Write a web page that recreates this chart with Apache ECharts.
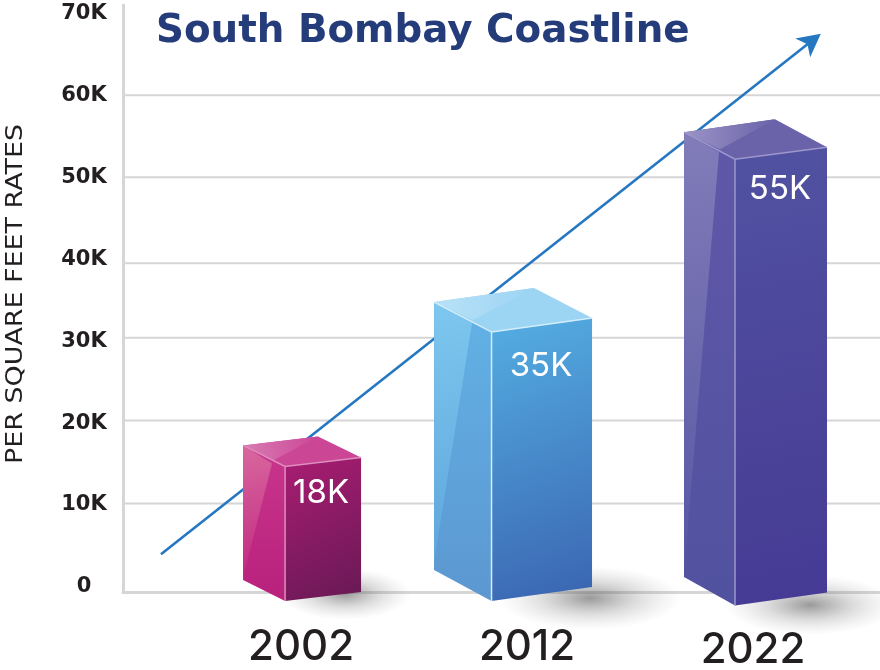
<!DOCTYPE html>
<html>
<head>
<meta charset="utf-8">
<style>html,body{margin:0;padding:0;background:#fff}#chart{width:880px;height:670px}</style>
<script src="https://cdn.jsdelivr.net/npm/echarts@6/dist/echarts.min.js"></script>
</head>
<body>
<div id="chart"></div>
<script>
// Rates in thousands per square foot
const years = [2002, 2012, 2022];
const rates = [18, 35, 55];
const rateTicks = [0, 10, 20, 30, 40, 50, 60, 70];
const gridLevels = [10.2, 20.3, 30.4, 39.5, 50, 60];
const trendYears = [1995.8, 2025];
const trendRates = [4, 67.5];

// Pixel offsets of each prism around its anchors (axis position of year/rate and year/0)
const prismShapes = [
  { dx: { left: -58, front: -16, right: 60, back: 17 },
    top: { left: 6, front: 27, right: 18, back: -3 },
    base: { left: -7, front: 14, right: 5 },
    sheenTip: [-29, 24], sheenFoot: -3, label: [20, 54], shadow: [44, 7, 66, 26] },
  { dx: { left: -93, front: -35.5, right: 65, back: 7 },
    top: { left: 2, front: 32, right: 18, back: -12 },
    base: { left: -17, front: 14, right: 0 },
    sheenTip: [-55, 23], sheenFoot: -8, label: [14, 66], shadow: [63, 11, 92, 32] },
  { dx: { left: -69, front: -18, right: 74, back: 22 },
    top: { left: -4, front: 23, right: 11, back: -17 },
    base: { left: -10, front: 18.5, right: 5.5 },
    sheenTip: [-34, 16], sheenFoot: -5, label: [27, 53], shadow: [57, 18, 86, 30] }
];

const prismColors = [
  { wall: ['#c9358d', '#b8217c'], sheen: ['#d9689f', '#c0277f'], frontStart: '#a91d72', frontEnd: '#671955',
    roof: '#cb4796', roofLight: '#d97bb3', edge: '#dd8ebd' },
  { wall: ['#62b2e6', '#5c97d0'], sheen: ['#7ec7ef', '#5ea6dc'], frontStart: '#54aee3', frontEnd: '#3a64b0',
    roof: '#9cd4f4', roofLight: '#b9e1f7', edge: '#d4edfb' },
  { wall: ['#5f58a8', '#51529f'], sheen: ['#827db9', '#5656a3'], frontStart: '#5152a2', frontEnd: '#463a94',
    roof: '#6a63a9', roofLight: '#9b93c6', edge: '#9d97cd' }
];

const axisGrey = '#d6d6d6';
const inkColor = '#231f20';
const trendColor = '#2577c1';
const yearFont = { fontSize: 42, fontWeight: 500, fontFamily: 'Inter', color: inkColor };

function linear(x, y, x2, y2, from, to) {
  return { type: 'linear', x, y, x2, y2, colorStops: [{ offset: 0, color: from }, { offset: 1, color: to }] };
}

// Horizontal rules across the plot
function renderGridLevel(params, api) {
  const y = api.coord([trendYears[0], api.value(0)])[1];
  const c = params.coordSys;
  return { type: 'line', shape: { x1: c.x, y1: y, x2: c.x + c.width, y2: y },
           style: { stroke: axisGrey, lineWidth: 2 } };
}

// Rising trend arrow behind the prisms
function renderTrend(params, api) {
  if (params.dataIndex !== 0) return null;
  const a = api.coord([trendYears[0], trendRates[0]]);
  const b = api.coord([trendYears[1], trendRates[1]]);
  const len = Math.hypot(b[0] - a[0], b[1] - a[1]);
  const ux = (b[0] - a[0]) / len, uy = (b[1] - a[1]) / len;
  const at = (along, side) => [b[0] + ux * along - uy * side, b[1] + uy * along + ux * side];
  return { type: 'group', children: [
    { type: 'line', shape: { x1: a[0], y1: a[1], x2: at(-15, 0)[0], y2: at(-15, 0)[1] },
      style: { stroke: trendColor, lineWidth: 2.6 } },
    { type: 'polygon', shape: { points: [at(0, 0), at(-23, -12), at(-17, 0), at(-23, 12)] },
      style: { fill: trendColor } }
  ] };
}

// Soft floor shadow at the foot of a prism
function renderShadow(params, api) {
  const s = prismShapes[params.dataIndex];
  const foot = api.coord([api.value(0), 0]);
  const ry = s.shadow[3];
  return { type: 'circle',
    x: foot[0] + s.shadow[0], y: foot[1] + s.shadow[1],
    scaleX: s.shadow[2] / ry,
    shape: { cx: 0, cy: 0, r: ry },
    style: { fill: { type: 'radial', x: 0.5, y: 0.5, r: 0.5, colorStops: [
      { offset: 0, color: 'rgba(70,70,70,0.55)' },
      { offset: 0.5, color: 'rgba(110,110,110,0.24)' },
      { offset: 1, color: 'rgba(160,160,160,0)' }] } } };
}

// Three visible faces of a prism, their highlights and the value text
function renderPrism(params, api) {
  const i = params.dataIndex;
  const s = prismShapes[i], c = prismColors[i];
  const head = api.coord([api.value(0), api.value(1)]);
  const foot = api.coord([api.value(0), 0]);
  const tp = k => [head[0] + s.dx[k], head[1] + s.top[k]];
  const bt = k => [foot[0] + s.dx[k], foot[1] + s.base[k]];
  const tl = tp('left'), tf = tp('front'), tr = tp('right'), tb = tp('back');
  const bl = bt('left'), bf = bt('front'), br = bt('right');
  const sheenTip = [head[0] + s.sheenTip[0], head[1] + s.sheenTip[1]];
  const sheenFoot = [bl[0], bl[1] + s.sheenFoot];
  const roofTip = [sheenTip[0] + 1, sheenTip[1] - 3];
  return { type: 'group', children: [
    { type: 'polygon', shape: { points: [tl, tf, bf, bl] },
      style: { fill: linear(0, 0, 0, 1, c.wall[0], c.wall[1]) } },
    { type: 'polygon', shape: { points: [tl, sheenTip, sheenFoot] },
      style: { fill: linear(0, 0, 1, 1, c.sheen[0], c.sheen[1]) } },
    { type: 'polygon', shape: { points: [tf, tr, br, bf] },
      style: { fill: linear(0, 0, 1, 1, c.frontStart, c.frontEnd) } },
    { type: 'polygon', shape: { points: [tl, tb, tr, tf] }, style: { fill: c.roof } },
    { type: 'polygon', shape: { points: [tl, tb, roofTip] },
      style: { fill: linear(0, 0, 1, 0, c.roofLight, c.roof) } },
    { type: 'polyline', shape: { points: [tl, tf, tr] },
      style: { stroke: c.edge, lineWidth: 1.5, fill: 'none' } },
    { type: 'line', shape: { x1: tf[0], y1: tf[1], x2: bf[0], y2: bf[1] },
      style: { stroke: c.edge, lineWidth: 1.5 } },
    { type: 'text', style: { x: foot[0] + s.label[0], y: head[1] + s.label[1],
        text: api.value(1) + 'K', fill: '#ffffff', align: 'center', verticalAlign: 'middle',
        font: '400 33px Inter, sans-serif' } }
  ] };
}

const prismData = years.map((y, i) => [y, rates[i]]);

const chart = echarts.init(document.getElementById('chart'), null, { renderer: 'canvas' });
chart.setOption({
  animation: false,
  backgroundColor: '#ffffff',
  title: {
    text: 'South Bombay Coastline', left: 151, top: 7,
    textStyle: { fontFamily: 'DejaVu Sans', fontWeight: 'bold', fontSize: 38.8, color: '#253c7b' }
  },
  grid: { left: 123, right: 0, top: 5, bottom: 78, containLabel: false, outerBoundsMode: 'none' },
  xAxis: {
    type: 'value', min: 1994.12, max: 2027.62,
    axisLine: { onZero: false, lineStyle: { color: axisGrey, width: 3 } },
    axisTick: { show: false }, splitLine: { show: false },
    axisLabel: { customValues: years, margin: 34, ...yearFont,
      formatter: v => (v === years[2] ? '{late|' + v + '}' : String(v)),
      rich: { late: { ...yearFont, padding: [3, 0, 0, 0] } } }
  },
  yAxis: {
    type: 'value', min: -0.61, max: 71,
    axisLine: { onZero: false, lineStyle: { color: axisGrey, width: 3 } },
    axisTick: { show: false }, splitLine: { show: false },
    axisLabel: { customValues: rateTicks, formatter: v => (v === 0 ? '0' : v + 'K'), margin: 39, align: 'center',
      padding: [5, 0, 0, 0],
      fontFamily: 'DejaVu Sans', fontWeight: 'bold', fontSize: 21, color: inkColor }
  },
  graphic: [{
    type: 'text', x: 16, y: 294, rotation: Math.PI / 2, scaleX: 1.17, silent: true,
    style: { text: 'PER SQUARE FEET RATES', align: 'center', verticalAlign: 'middle',
      font: '23px "DejaVu Sans"', fill: inkColor }
  }],
  series: [
    { type: 'custom', z: 1, silent: true, renderItem: renderGridLevel, data: gridLevels.map(v => [v]),
      encode: { y: 0 } },
    { type: 'custom', z: 2, silent: true, renderItem: renderTrend, data: [[trendYears[0], trendRates[0]]] },
    { type: 'custom', z: 3, silent: true, renderItem: renderShadow, data: prismData },
    { type: 'custom', z: 4, silent: true, renderItem: renderPrism, data: prismData }
  ]
});
</script>
</body>
</html>
